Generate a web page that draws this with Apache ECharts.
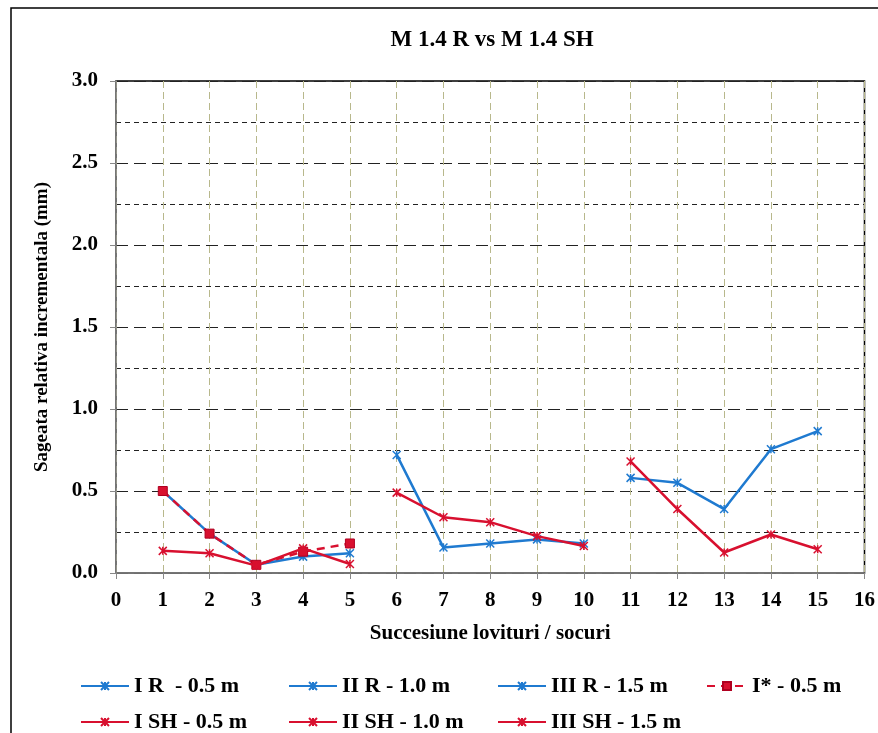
<!DOCTYPE html>
<html>
<head>
<meta charset="utf-8">
<script src="https://cdn.jsdelivr.net/npm/echarts@6/dist/echarts.min.js"></script>
<style>
  html, body { margin: 0; padding: 0; background: #fff; }
  #chart { width: 878px; height: 733px; }
</style>
</head>
<body>
<div id="chart"></div>
<script>
// Shot sequences (x positions) for each group of measurements
const shotsI = [1, 2, 3, 4, 5];
const shotsII = [6, 7, 8, 9, 10];
const shotsIII = [11, 12, 13, 14, 15];

// Incremental relative deflection (mm), R specimens
const valIR = [0.50, 0.24, 0.05, 0.10, 0.12];
const valIIR = [0.72, 0.155, 0.18, 0.205, 0.18];
const valIIIR = [0.58, 0.55, 0.39, 0.755, 0.865];
// Repeated first group
const valIStar = [0.50, 0.24, 0.05, 0.13, 0.18];
// Incremental relative deflection (mm), SH specimens
const valISH = [0.135, 0.12, 0.045, 0.15, 0.055];
const valIISH = [0.49, 0.34, 0.31, 0.225, 0.165];
const valIIISH = [0.68, 0.39, 0.125, 0.235, 0.145];

const seriesNames = ['I R  - 0.5 m', 'II R - 1.0 m', 'III R - 1.5 m', 'I* - 0.5 m',
                     'I SH - 0.5 m', 'II SH - 1.0 m', 'III SH - 1.5 m'];

const BLUE = '#1f7ad0';
const RED = '#d8102f';
const SERIF = '"Liberation Serif", "DejaVu Serif", serif';
const ASTERISK = 'path://M0,0L10,10M10,0L0,10M5,0L5,10';

const pairs = (xs, ys) => xs.map((x, i) => [x, ys[i]]);

function lineSeries(name, xs, ys, color, opts) {
  opts = opts || {};
  return {
    name: name,
    type: 'line',
    data: pairs(xs, ys),
    symbol: opts.symbol || ASTERISK,
    symbolSize: opts.symbolSize || 8,
    showAllSymbol: true,
    lineStyle: { color: color, width: 2.5, type: opts.dash || 'solid' },
    itemStyle: opts.itemStyle || { color: color, borderColor: color, borderWidth: 1.5 },
    emphasis: { disabled: true },
    animation: false,
    z: opts.z || 2
  };
}

// One legend block per entry so the entries sit in fixed columns
const legendText = { fontFamily: SERIF, fontWeight: 'bold', fontSize: 22, color: '#000' };
const legendSlots = [
  { name: seriesNames[0], left: 80, top: 675, w: 48 },
  { name: seriesNames[1], left: 288, top: 675, w: 48 },
  { name: seriesNames[2], left: 497, top: 675, w: 48 },
  { name: seriesNames[3], left: 706, top: 675, w: 40 },
  { name: seriesNames[4], left: 80, top: 711, w: 48 },
  { name: seriesNames[5], left: 288, top: 711, w: 48 },
  { name: seriesNames[6], left: 497, top: 711, w: 48 }
];
const legends = legendSlots.map(s => ({
  data: [s.name], left: s.left, top: s.top,
  itemWidth: s.w, itemHeight: 10, padding: 0,
  selectedMode: false,
  textStyle: legendText
}));

const chart = echarts.init(document.getElementById('chart'), null, { renderer: 'canvas' });

chart.setOption({
  backgroundColor: '#fff',
  title: {
    text: 'M 1.4 R vs M 1.4 SH',
    left: 487,
    top: 24,
    textAlign: 'center',
    textStyle: { fontFamily: SERIF, fontWeight: 'bold', fontSize: 23, color: '#000' }
  },
  graphic: [{
    type: 'rect',
    shape: { x: 11, y: 8, width: 900, height: 800 },
    style: { fill: 'none', stroke: '#000', lineWidth: 1.5 },
    silent: true
  }],
  legend: legends,
  grid: {
    left: 116, right: 8, top: 81, bottom: 160,
    show: true, borderColor: '#000', borderWidth: 1.5, backgroundColor: 'transparent'
  },
  xAxis: {
    type: 'value', min: 0, max: 16, interval: 1,
    name: 'Succesiune lovituri / socuri',
    nameLocation: 'middle', nameGap: 50,
    nameTextStyle: { fontFamily: SERIF, fontWeight: 'bold', fontSize: 21, color: '#000' },
    axisLine: { show: true, onZero: false, lineStyle: { color: '#888', width: 1.5 } },
    axisTick: { show: true, length: 6, lineStyle: { color: '#888' } },
    axisLabel: { fontFamily: SERIF, fontWeight: 'bold', fontSize: 21, color: '#000', margin: 17,
                 showMaxLabel: true },
    splitLine: { show: true, lineStyle: { color: '#b8b88c', width: 1, type: [7, 4] } }
  },
  yAxis: {
    type: 'value', min: 0, max: 3, interval: 0.5,
    name: 'Sageata relativa incrementala (mm)',
    nameLocation: 'middle', nameGap: 64,
    nameTextStyle: { fontFamily: SERIF, fontWeight: 'bold', fontSize: 19, color: '#000' },
    axisLine: { show: true, lineStyle: { color: '#888', width: 1.5 } },
    axisTick: { show: true, length: 6, lineStyle: { color: '#888' } },
    axisLabel: { fontFamily: SERIF, fontWeight: 'bold', fontSize: 21, color: '#000', margin: 18,
                 formatter: v => v.toFixed(1) },
    splitLine: { show: true, lineStyle: { color: '#222', width: 1.2, type: [12, 6] } },
    minorTick: { show: false, splitNumber: 2 },
    minorSplitLine: { show: true, lineStyle: { color: '#222', width: 1.2, type: [5, 4] } }
  },
  series: [
    lineSeries(seriesNames[0], shotsI, valIR, BLUE),
    lineSeries(seriesNames[1], shotsII, valIIR, BLUE),
    lineSeries(seriesNames[2], shotsIII, valIIIR, BLUE),
    lineSeries(seriesNames[3], shotsI, valIStar, RED, {
      symbol: 'rect', symbolSize: 9, dash: [8, 6], z: 3,
      itemStyle: { color: RED, borderColor: '#b00020', borderWidth: 1 }
    }),
    lineSeries(seriesNames[4], shotsI, valISH, RED, { z: 4 }),
    lineSeries(seriesNames[5], shotsII, valIISH, RED, { z: 4 }),
    lineSeries(seriesNames[6], shotsIII, valIIISH, RED, { z: 4 })
  ]
});
</script>
</body>
</html>
